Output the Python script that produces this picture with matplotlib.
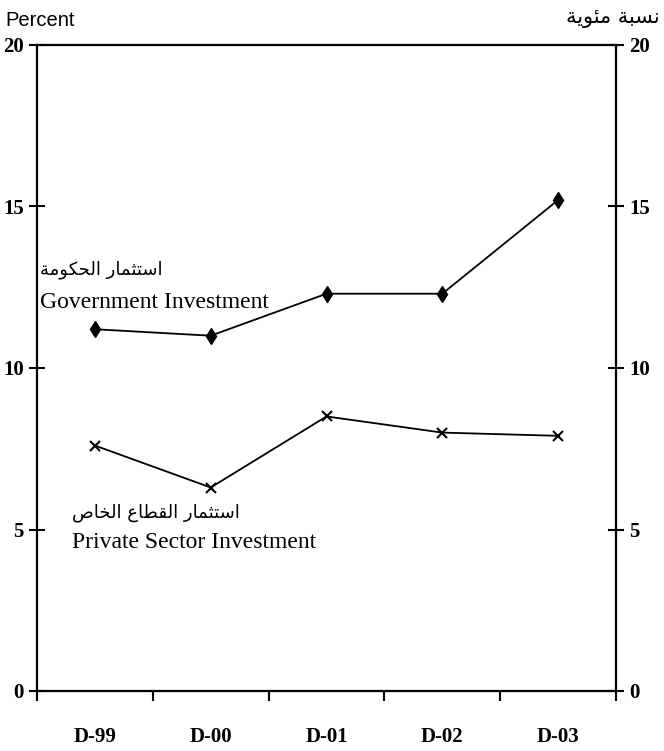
import matplotlib
matplotlib.use("Agg")
import matplotlib.pyplot as plt
from matplotlib.font_manager import FontProperties

# data
periods = ["D-99", "D-00", "D-01", "D-02", "D-03"]
gov_invest = [11.2, 11.0, 12.3, 12.3, 15.2]
private_invest = [7.6, 6.3, 8.5, 8.0, 7.9]
y_ticks = [0, 5, 10, 15, 20]

label_gov_ar = "استثمار الحكومة"
label_gov_en = "Government Investment"
label_priv_ar = "استثمار القطاع الخاص"
label_priv_en = "Private Sector Investment"
unit_en = "Percent"
unit_ar = "نسبة مئوية"

# matplotlib has no Arabic shaping, so map letters to presentation forms
# (isolated, final, initial, medial); right-joining letters have only two
FORMS = {
    "ا": (0xFE8D, 0xFE8E), "أ": (0xFE83, 0xFE84), "ؤ": (0xFE85, 0xFE86),
    "ة": (0xFE93, 0xFE94), "د": (0xFEA9, 0xFEAA), "ذ": (0xFEAB, 0xFEAC),
    "ر": (0xFEAD, 0xFEAE), "ز": (0xFEAF, 0xFEB0), "و": (0xFEED, 0xFEEE),
    "ئ": (0xFE89, 0xFE8A, 0xFE8B, 0xFE8C), "ب": (0xFE8F, 0xFE90, 0xFE91, 0xFE92),
    "ت": (0xFE95, 0xFE96, 0xFE97, 0xFE98), "ث": (0xFE99, 0xFE9A, 0xFE9B, 0xFE9C),
    "ح": (0xFEA1, 0xFEA2, 0xFEA3, 0xFEA4), "خ": (0xFEA5, 0xFEA6, 0xFEA7, 0xFEA8),
    "س": (0xFEB1, 0xFEB2, 0xFEB3, 0xFEB4), "ص": (0xFEB9, 0xFEBA, 0xFEBB, 0xFEBC),
    "ط": (0xFEC1, 0xFEC2, 0xFEC3, 0xFEC4), "ع": (0xFEC9, 0xFECA, 0xFECB, 0xFECC),
    "ق": (0xFED5, 0xFED6, 0xFED7, 0xFED8), "ك": (0xFED9, 0xFEDA, 0xFEDB, 0xFEDC),
    "ل": (0xFEDD, 0xFEDE, 0xFEDF, 0xFEE0), "م": (0xFEE1, 0xFEE2, 0xFEE3, 0xFEE4),
    "ن": (0xFEE5, 0xFEE6, 0xFEE7, 0xFEE8), "ه": (0xFEE9, 0xFEEA, 0xFEEB, 0xFEEC),
    "ي": (0xFEF1, 0xFEF2, 0xFEF3, 0xFEF4),
}


def shape_arabic(text):
    out = []
    for i, ch in enumerate(text):
        forms = FORMS.get(ch)
        if forms is None:
            out.append(ch)
            continue
        prev = text[i - 1] if i > 0 else None
        nxt = text[i + 1] if i + 1 < len(text) else None
        join_prev = prev in FORMS and len(FORMS[prev]) == 4
        join_next = len(forms) == 4 and nxt in FORMS
        if join_prev and join_next:
            code = forms[3]
        elif join_prev:
            code = forms[1]
        elif join_next:
            code = forms[2]
        else:
            code = forms[0]
        out.append(chr(code))
    return "".join(reversed(out))


W, H = 664, 751


def px(x, y):
    return x / W, 1 - y / H


fig = plt.figure(figsize=(W / 100, H / 100), dpi=100)
ax = fig.add_axes([37 / W, 60 / H, 579 / W, 646 / H])

x = list(range(len(periods)))
ax.plot(x, gov_invest, color="black", lw=1.3, marker="d", ms=8, mfc="black", mew=1)
ax.plot(x, private_invest, color="black", lw=1.3, marker="x", ms=7, mew=1.5)

ax.set_xlim(-0.5, len(periods) - 0.5)
ax.set_ylim(0, 20)

for s in ax.spines.values():
    s.set_linewidth(1.6)

tick_fp = FontProperties(family="Liberation Serif", weight="bold", size=15)

# category boundaries carry the tick marks, labels sit at the centres
ax.set_xticks([i - 0.5 for i in range(len(periods) + 1)])
ax.set_xticklabels([])
ax.set_xticks(x, minor=True)
ax.set_xticklabels(periods, minor=True)
ax.tick_params(axis="x", which="major", direction="out", length=7, width=1.5)
ax.tick_params(axis="x", which="minor", length=0, pad=26)
for lab in ax.get_xticklabels(minor=True):
    lab.set_fontproperties(tick_fp)

ax.set_yticks(y_ticks)
ax.set_yticklabels([str(v) for v in y_ticks])
ax.tick_params(axis="y", direction="inout", length=11, width=1.5, pad=4,
               left=True, right=True, labelleft=True, labelright=True)
for t in ax.yaxis.get_major_ticks():
    t.label1.set_fontproperties(tick_fp)
    t.label2.set_fontproperties(tick_fp)

serif = ["Liberation Serif", "DejaVu Serif"]
arabic = ["DejaVu Sans"]

fig.text(*px(5, 21), unit_en, family="Liberation Sans", fontsize=14.5, va="center", ha="left")
fig.text(*px(660, 18), shape_arabic(unit_ar), family=arabic, fontsize=15, va="center", ha="right")

fig.text(*px(40, 270), shape_arabic(label_gov_ar), family=arabic, fontsize=13, va="center", ha="left")
fig.text(*px(40, 302), label_gov_en, family=serif, fontsize=17, va="center", ha="left")
fig.text(*px(72, 513), shape_arabic(label_priv_ar), family=arabic, fontsize=13, va="center", ha="left")
fig.text(*px(72, 543), label_priv_en, family=serif, fontsize=17, va="center", ha="left")

fig.savefig("out.png", dpi=100)
